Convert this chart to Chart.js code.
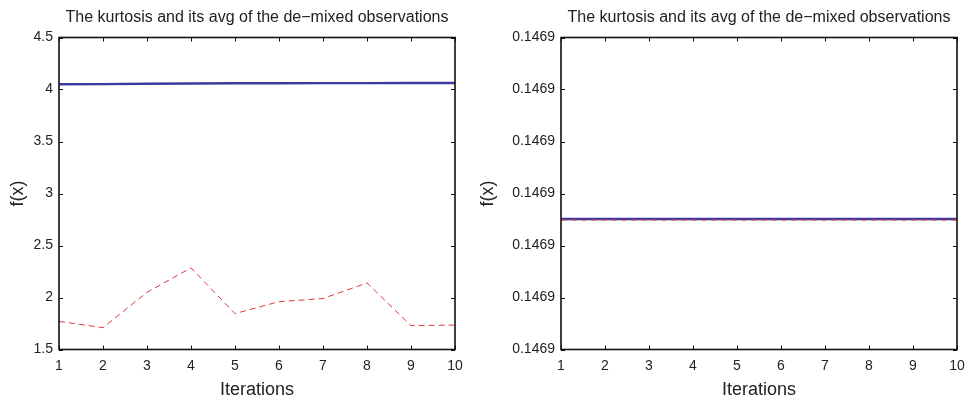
<!DOCTYPE html>
<html>
<head>
<meta charset="utf-8">
<script src="https://cdn.jsdelivr.net/npm/chart.js@4.4.1/dist/chart.umd.min.js"></script>
<style>
  html, body { margin: 0; padding: 0; background: #fff; }
  .panel { position: absolute; top: 0; height: 402px; }
  #left { left: 0; width: 475px; }
  #right { left: 475px; width: 501px; }
</style>
</head>
<body>
<div class="panel" id="left"><canvas id="leftChart"></canvas></div>
<div class="panel" id="right"><canvas id="rightChart"></canvas></div>
<script>
const titleText = 'The kurtosis and its avg of the de\u2212mixed observations';
const iterations = [1, 2, 3, 4, 5, 6, 7, 8, 9, 10];

// left panel
const leftAvg = [4.050, 4.052, 4.055, 4.058, 4.060, 4.060, 4.061, 4.061, 4.062, 4.062];
const leftKurtosis = [1.77, 1.71, 2.05, 2.285, 1.845, 1.96, 1.99, 2.14, 1.73, 1.735];
const leftYTicks = [1.5, 2, 2.5, 3, 3.5, 4, 4.5];

// right panel
const rightAvg = [0.14690251, 0.14690251, 0.14690251, 0.14690251, 0.14690251,
                  0.14690251, 0.14690251, 0.14690251, 0.14690251, 0.14690251];
const rightKurtosis = [0.14690249, 0.14690249, 0.14690249, 0.14690249, 0.14690249,
                       0.14690249, 0.14690249, 0.14690249, 0.14690249, 0.14690249];
const rightYTicks = [0.146900, 0.146901, 0.146902, 0.146903, 0.146904, 0.146905, 0.146906];

const fontFamily = '"Liberation Sans", Arial, Helvetica, sans-serif';
const textColor = '#222';

// box around the plot area with inward tick marks on all four sides
const framePlugin = {
  id: 'frame',
  afterDatasetsDraw(chart) {
    const { ctx, chartArea: { left, right, top, bottom } } = chart;
    const xs = chart.scales.x, ys = chart.scales.y;
    const len = 4;
    ctx.save();
    ctx.strokeStyle = '#111';
    ctx.lineWidth = 1;
    ctx.beginPath();
    xs.ticks.forEach(t => {
      const px = Math.round(xs.getPixelForValue(t.value)) + 0.5;
      ctx.moveTo(px, bottom); ctx.lineTo(px, bottom - len);
      ctx.moveTo(px, top); ctx.lineTo(px, top + len);
    });
    ys.ticks.forEach(t => {
      const py = Math.round(ys.getPixelForValue(t.value)) + 0.5;
      ctx.moveTo(left, py); ctx.lineTo(left + len, py);
      ctx.moveTo(right, py); ctx.lineTo(right - len, py);
    });
    ctx.stroke();
    ctx.lineWidth = 1.6;
    ctx.strokeRect(left, top, right - left, bottom - top);
    ctx.restore();
  }
};

function toPoints(values) {
  return iterations.map((x, i) => ({ x: x, y: values[i] }));
}

function makeChart(canvasId, avg, kurt, yTicks, opts) {
  return new Chart(document.getElementById(canvasId), {
    type: 'line',
    data: {
      datasets: [
        {
          label: 'kurtosis',
          data: toPoints(kurt),
          borderColor: '#e03a3a',
          borderWidth: 1,
          borderDash: [6, 4],
          pointRadius: 0,
          tension: 0
        },
        {
          label: 'avg',
          data: toPoints(avg),
          borderColor: '#3b3a9e',
          borderWidth: 2.4,
          pointRadius: 0,
          tension: 0
        }
      ]
    },
    options: {
      responsive: true,
      maintainAspectRatio: false,
      animation: false,
      layout: { padding: { left: 0, right: opts.padRight, top: 0, bottom: 0 } },
      plugins: {
        legend: { display: false },
        tooltip: { enabled: false },
        title: {
          display: true,
          text: titleText,
          fullSize: false,
          color: textColor,
          font: { family: fontFamily, size: 16, weight: 'normal' },
          padding: { top: 7.5, bottom: 10.8 }
        }
      },
      scales: {
        x: {
          type: 'linear',
          min: 1,
          max: 10,
          grid: { display: false, drawTicks: false },
          border: { display: false },
          ticks: {
            stepSize: 1,
            padding: 8,
            color: textColor,
            font: { family: fontFamily, size: 14 }
          },
          title: {
            display: true,
            text: 'Iterations',
            color: textColor,
            font: { family: fontFamily, size: 18 },
            padding: { top: 1, bottom: 1 }
          },
          afterFit(scale) { scale.height = 52.5; }
        },
        y: {
          type: 'linear',
          min: yTicks[0],
          max: yTicks[yTicks.length - 1],
          grid: { display: false, drawTicks: false },
          border: { display: false },
          afterBuildTicks(scale) {
            scale.ticks = yTicks.map(v => ({ value: v }));
          },
          ticks: {
            padding: 6,
            color: textColor,
            font: { family: fontFamily, size: 14 },
            callback: opts.tickLabel
          },
          title: {
            display: true,
            text: 'f(x)',
            color: textColor,
            font: { family: fontFamily, size: 18 },
            padding: { top: opts.yTitlePad, bottom: opts.yTitlePad }
          },
          afterFit(scale) { scale.width = opts.yWidth; }
        }
      }
    },
    plugins: [framePlugin]
  });
}

makeChart('leftChart', leftAvg, leftKurtosis, leftYTicks, {
  yWidth: 59,
  padRight: 20,
  yTitlePad: 7.5,
  tickLabel: v => String(v)
});

makeChart('rightChart', rightAvg, rightKurtosis, rightYTicks, {
  yWidth: 86,
  padRight: 19,
  yTitlePad: 2,
  tickLabel: v => v.toFixed(4)
});
</script>
</body>
</html>
